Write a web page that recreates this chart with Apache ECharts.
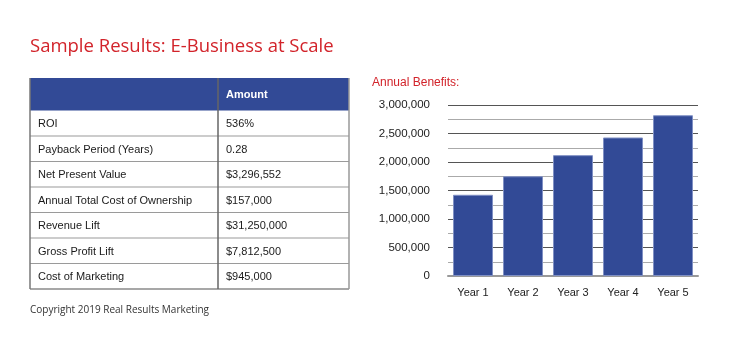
<!DOCTYPE html>
<html>
<head>
<meta charset="utf-8">
<script src="https://cdn.jsdelivr.net/npm/echarts@6/dist/echarts.min.js"></script>
<style>
html,body{margin:0;padding:0;background:#fff;}
#chart{width:750px;height:350px;}
</style>
</head>
<body>
<div id="chart"></div>
<script>
const titleText = 'Sample Results: E-Business at Scale';
const chartTitle = 'Annual Benefits:';
const copyrightText = 'Copyright 2019 Real Results Marketing';
const years = ['Year 1', 'Year 2', 'Year 3', 'Year 4', 'Year 5'];
const benefits = [1425000, 1750000, 2120000, 2430000, 2820000];
const tableHeader = ['', 'Amount'];
const tableLabels = ['ROI', 'Payback Period (Years)', 'Net Present Value', 'Annual Total Cost of Ownership', 'Revenue Lift', 'Gross Profit Lift', 'Cost of Marketing'];
const tableAmounts = ['536%', '0.28', '$3,296,552', '$157,000', '$31,250,000', '$7,812,500', '$945,000'];

const RED = '#d2232a';
const BLUE = '#324a96';
const TFONT = '"Liberation Sans", Arial, Helvetica, sans-serif';

// table layout
const tx0 = 30, tx1 = 218, tx2 = 349;
const ty0 = 78, headH = 32.5, rowH = 25.5;
const tableEls = [];
tableEls.push({type:'rect', shape:{x:tx0, y:ty0, width:tx2-tx0, height:headH}, style:{fill:BLUE}});
tableEls.push({type:'text', style:{x:tx1+8, y:ty0+headH/2+1, text:tableHeader[1], fill:'#fff', font:'bold 11px ' + TFONT, verticalAlign:'middle'}});
const tBottom = ty0 + headH + rowH*tableLabels.length;
for (let i = 0; i < tableLabels.length; i++) {
  const yTop = ty0 + headH + rowH*i;
  const yMid = yTop + rowH/2 + 1;
  tableEls.push({type:'text', style:{x:tx0+8, y:yMid, text:tableLabels[i], fill:'#1a1a1a', font:'11px ' + TFONT, verticalAlign:'middle'}});
  tableEls.push({type:'text', style:{x:tx1+8, y:yMid, text:tableAmounts[i], fill:'#1a1a1a', font:'11px ' + TFONT, verticalAlign:'middle'}});
  if (i > 0) {
    tableEls.push({type:'line', shape:{x1:tx0, y1:yTop, x2:tx2, y2:yTop}, style:{stroke:'#9a9a9a', lineWidth:1.2}});
  }
}
// outer lines
tableEls.push({type:'line', shape:{x1:tx0, y1:tBottom, x2:tx2, y2:tBottom}, style:{stroke:'#8a8a8a', lineWidth:1.5}});
tableEls.push({type:'line', shape:{x1:tx0, y1:ty0, x2:tx0, y2:tBottom}, style:{stroke:'#777', lineWidth:1.5}});
tableEls.push({type:'line', shape:{x1:tx2, y1:ty0, x2:tx2, y2:tBottom}, style:{stroke:'#999', lineWidth:1.5}});
tableEls.push({type:'line', shape:{x1:tx1, y1:ty0, x2:tx1, y2:tBottom}, style:{stroke:'#666', lineWidth:1.5}});

const chart = echarts.init(document.getElementById('chart'), null, {renderer:'canvas'});
chart.setOption({
  backgroundColor:'#fff',
  animation:false,
  title:[
    {text:titleText, left:30, top:37, padding:0, textStyle:{color:RED, fontFamily:'"Open Sans", sans-serif', fontSize:18.5, fontWeight:500}},
    {text:chartTitle, left:372, top:77, padding:0, textStyle:{color:RED, fontFamily:TFONT, fontSize:12, fontWeight:'normal'}},
    {text:copyrightText, left:30, top:305, padding:0, textStyle:{color:'#333', fontFamily:'"Open Sans", sans-serif', fontSize:10, fontWeight:'normal'}}
  ],
  grid:{left:448, right:52, top:105, bottom:74, containLabel:false},
  xAxis:{
    type:'category', data:years,
    axisTick:{show:false},
    axisLine:{show:true, lineStyle:{color:'#999', width:2}},
    axisLabel:{color:'#222', fontFamily:TFONT, fontSize:11, margin:11}
  },
  yAxis:{
    type:'value', min:0, max:3000000, interval:500000,
    axisLine:{show:false}, axisTick:{show:false},
    axisLabel:{color:'#222', fontFamily:TFONT, fontSize:11.5, margin:18,
      formatter:function(v){return v.toLocaleString('en-US');}},
    splitLine:{show:true, lineStyle:{color:'#555', width:1.2}},
    minorTick:{show:false, splitNumber:2},
    minorSplitLine:{show:true, lineStyle:{color:'#aaa', width:1.2}}
  },
  series:[{
    type:'bar', data:benefits, barWidth:40,
    itemStyle:{color:BLUE, borderColor:'#8090c4', borderWidth:1}
  }],
  graphic:[{type:'group', children:tableEls}]
});
</script>
</body>
</html>
